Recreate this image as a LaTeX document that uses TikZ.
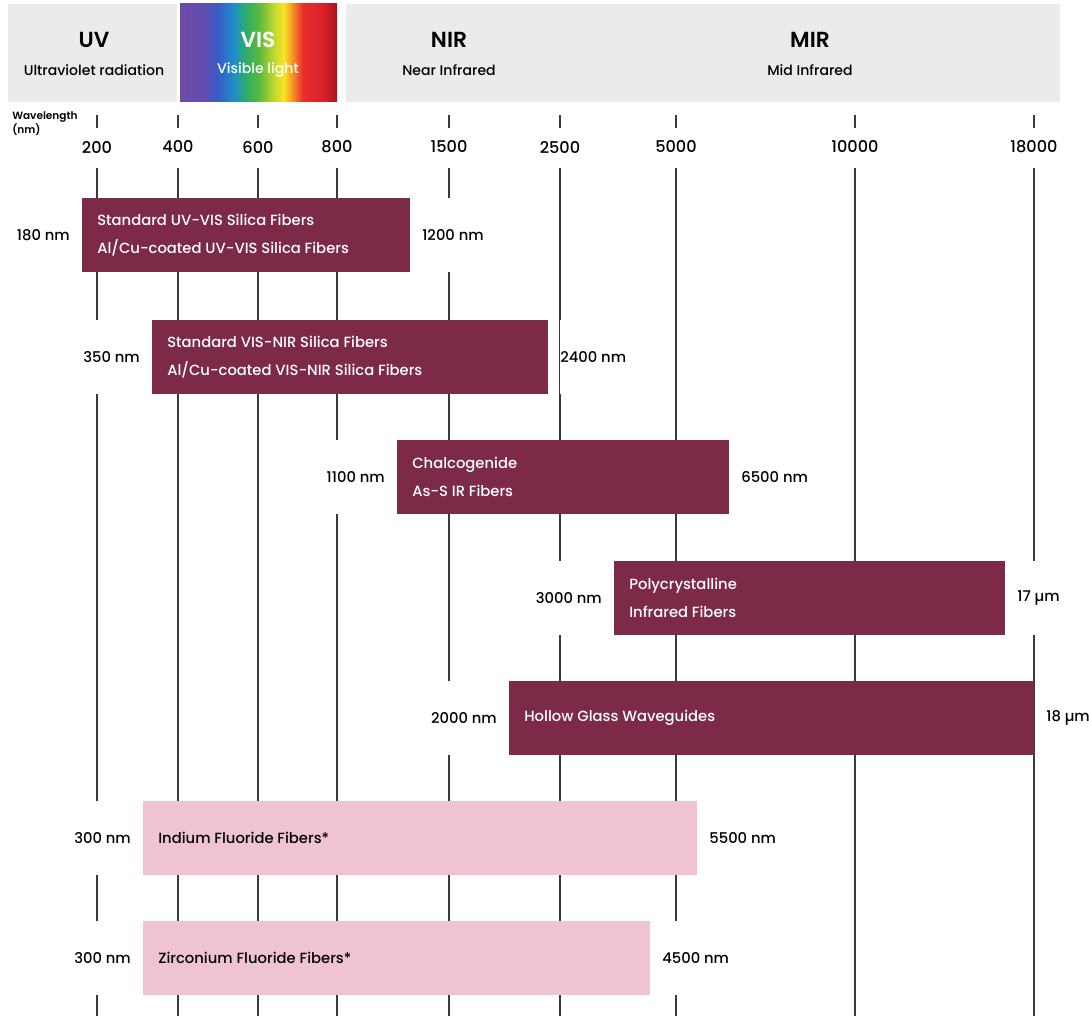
\documentclass[tikz,border=0pt]{standalone}
\usepackage{fontspec}
\setmainfont{Poppins Medium}[BoldFont=Poppins SemiBold]
\usetikzlibrary{positioning}
\definecolor{fibre}{HTML}{7C2A48}
\definecolor{fluoride}{HTML}{F0C3D2}
\definecolor{band}{HTML}{EBEBEB}
\definecolor{gridgray}{HTML}{3A3A3A}
% the path covers 25bp--75bp of the shading
\pgfdeclarehorizontalshading{vislight}{100bp}{
  rgb(0bp)=(0.42,0.30,0.66);
  rgb(25bp)=(0.42,0.30,0.66);
  rgb(32bp)=(0.40,0.30,0.68);
  rgb(37bp)=(0.22,0.36,0.78);
  rgb(42bp)=(0.12,0.55,0.80);
  rgb(46bp)=(0.18,0.68,0.40);
  rgb(50bp)=(0.35,0.72,0.25);
  rgb(55bp)=(0.75,0.85,0.18);
  rgb(58bp)=(0.97,0.90,0.15);
  rgb(61bp)=(0.96,0.55,0.15);
  rgb(64bp)=(0.92,0.18,0.18);
  rgb(71bp)=(0.84,0.12,0.15);
  rgb(75bp)=(0.66,0.08,0.12);
  rgb(100bp)=(0.66,0.08,0.12)}

\begin{document}
\begin{tikzpicture}[x=0.025cm,y=-0.025cm,
    gridline/.style={gridgray, line width=1pt},
    bandtitle/.style={font=\bfseries\fontsize{15.5}{18}\selectfont},
    bandsub/.style={font=\fontsize{10}{12}\selectfont},
    ticklbl/.style={font=\fontsize{11.5}{13}\selectfont},
    fibrebar/.style={fill=fibre, inner sep=0pt, outer sep=0pt, minimum height=1.85cm, anchor=west},
    fluobar/.style={fibrebar, fill=fluoride},
    fibretext/.style={text=white, inner sep=0pt, align=left, anchor=west, font=\fontsize{10.5}{19.5}\selectfont},
    fluotext/.style={fibretext, text=black},
    rangelbl/.style={fill=white, inner xsep=0pt, inner ysep=0pt, minimum height=1.85cm, font=\fontsize{10.5}{12}\selectfont}]
    \useasboundingbox (0,0) rectangle (1089,1016);

    % spectral bands
    \fill[band] (8,4) rectangle (177,102);
    \shade[shading=vislight] (180,4) rectangle (337,102);
    \fill[band] (346,4) rectangle (1060,102);

    \node[bandtitle] (uv) at (94,40) {UV};
    \node[bandsub] (uvsub) at (94,70) {Ultraviolet radiation};
    \node[bandtitle, text=white] (vis) at (258,40) {VIS};
    \node[bandsub, text=white] (vissub) at (258,70) {Visible light};
    \node[bandtitle] (nir) at (449,40) {NIR};
    \node[bandsub] (nirsub) at (449,70) {Near Infrared};
    \node[bandtitle] (mir) at (810,40) {MIR};
    \node[bandsub] (mirsub) at (810,70) {Mid Infrared};

    % wavelength axis
    \node[anchor=north west, inner sep=0pt, align=left, font=\bfseries\fontsize{7.5}{8}\selectfont] (wl) at (12,111) {Wavelength\\(nm)};
    \foreach \x/\val [count=\i] in {97/200, 178/400, 258/600, 337/800, 449/1500, 560/2500, 676/5000, 855/10000, 1034/18000} {
        \coordinate (tick\i a) at (\x,115);
        \coordinate (tick\i b) at (\x,128);
        \draw[gridline] (tick\i a) -- (tick\i b);
        \node[ticklbl] (val\i) at (\x,147) {\val};
        \coordinate (grid\i a) at (\x,168);
        \coordinate (grid\i b) at (\x,1016);
        \draw[gridline] (grid\i a) -- (grid\i b);
    }

    % fibre ranges
    \node[fibrebar, minimum width=8.2cm] (bar1) at (82,235) {};
    \node[fibretext, right=0.375cm of bar1.west] (txt1) {Standard UV-VIS Silica Fibers\\Al/Cu-coated UV-VIS Silica Fibers};
    \node[rangelbl, left=8.5pt of bar1] (min1) {180 nm};
    \node[rangelbl, right=8.5pt of bar1] (max1) {1200 nm};

    \node[fibrebar, minimum width=9.9cm] (bar2) at (152,357) {};
    \node[fibretext, right=0.375cm of bar2.west] (txt2) {Standard VIS-NIR Silica Fibers\\Al/Cu-coated VIS-NIR Silica Fibers};
    \node[rangelbl, left=8.5pt of bar2] (min2) {350 nm};
    \node[rangelbl, right=8.5pt of bar2] (max2) {2400 nm};

    \node[fibrebar, minimum width=8.3cm] (bar3) at (397,477) {};
    \node[fibretext, right=0.375cm of bar3.west] (txt3) {Chalcogenide\\As-S IR Fibers};
    \node[rangelbl, left=8.5pt of bar3] (min3) {1100 nm};
    \node[rangelbl, right=8.5pt of bar3] (max3) {6500 nm};

    \node[fibrebar, minimum width=9.775cm] (bar4) at (614,598) {};
    \node[fibretext, right=0.375cm of bar4.west] (txt4) {Polycrystalline\\Infrared Fibers};
    \node[rangelbl, left=8.5pt of bar4] (min4) {3000 nm};
    \node[rangelbl, right=8.5pt of bar4] (max4) {17 µm};

    \node[fibrebar, minimum width=13.125cm] (bar5) at (509,718) {};
    \node[fibretext, right=0.375cm of bar5.west] (txt5) {Hollow Glass Waveguides};
    \node[rangelbl, left=8.5pt of bar5] (min5) {2000 nm};
    \node[rangelbl, right=8.5pt of bar5] (max5) {18 µm};

    % fluoride fibres
    \node[fluobar, minimum width=13.85cm] (bar6) at (143,838) {};
    \node[fluotext, right=0.375cm of bar6.west] (txt6) {Indium Fluoride Fibers*};
    \node[rangelbl, left=8.5pt of bar6] (min6) {300 nm};
    \node[rangelbl, right=8.5pt of bar6] (max6) {5500 nm};

    \node[fluobar, minimum width=12.675cm] (bar7) at (143,958) {};
    \node[fluotext, right=0.375cm of bar7.west] (txt7) {Zirconium Fluoride Fibers*};
    \node[rangelbl, left=8.5pt of bar7] (min7) {300 nm};
    \node[rangelbl, right=8.5pt of bar7] (max7) {4500 nm};

\end{tikzpicture}
\end{document}
